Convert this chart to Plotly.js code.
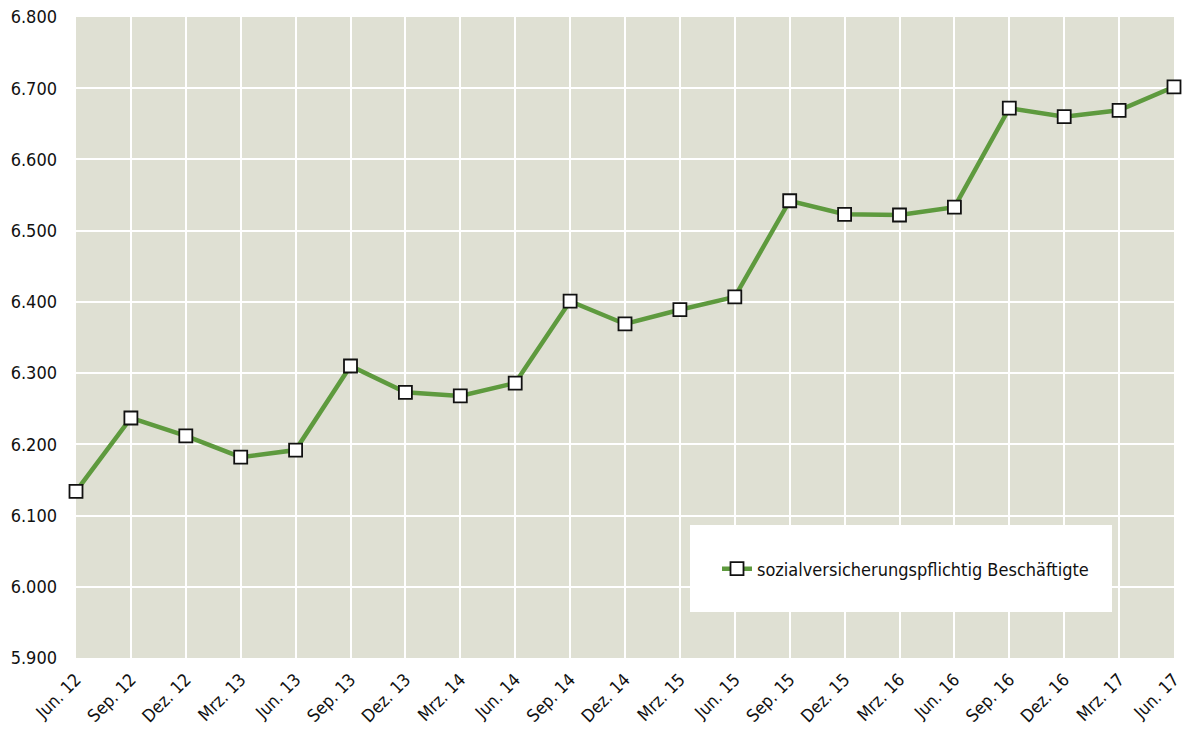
<!DOCTYPE html>
<html>
<head>
<meta charset="utf-8">
<script src="https://cdn.plot.ly/plotly-3.0.1.min.js"></script>
<style>html,body{margin:0;padding:0;background:#fff;}#chart{width:1184px;height:729px;}</style>
</head>
<body>
<div id="chart"></div>
<script>
const categories = ["Jun. 12","Sep. 12","Dez. 12","Mrz. 13","Jun. 13","Sep. 13","Dez. 13","Mrz. 14","Jun. 14","Sep. 14","Dez. 14","Mrz. 15","Jun. 15","Sep. 15","Dez. 15","Mrz. 16","Jun. 16","Sep. 16","Dez. 16","Mrz. 17","Jun. 17"];
const beschaeftigte = [6134,6237,6212,6182,6192,6310,6273,6268,6286,6401,6369,6389,6407,6542,6523,6522,6533,6672,6660,6669,6702];
const seriesName = "sozialversicherungspflichtig Beschäftigte";
const yTicks = [5900,6000,6100,6200,6300,6400,6500,6600,6700,6800];
const yTickLabels = ["5.900","6.000","6.100","6.200","6.300","6.400","6.500","6.600","6.700","6.800"];

const font = "DejaVu Sans Condensed, DejaVu Sans, Verdana, sans-serif";
const trace = {
  x: categories,
  y: beschaeftigte,
  name: seriesName,
  type: "scatter",
  mode: "lines+markers",
  cliponaxis: false,
  line: {color: "#5e9a3e", width: 4.5},
  marker: {symbol: "square", size: 13, color: "#ffffff", line: {color: "#111111", width: 1.8}},
  showlegend: true
};
const layout = {
  width: 1184, height: 729,
  margin: {l: 76, r: 10, t: 17, b: 71},
  paper_bgcolor: "#ffffff",
  plot_bgcolor: "#dfe0d3",
  font: {family: font, size: 18, color: "#111111"},
  xaxis: {
    type: "category",
    range: [0, categories.length - 1],
    showgrid: true, gridcolor: "#ffffff", gridwidth: 2,
    zeroline: false, showline: false, ticks: "",
    tickangle: -45,
    ticklabelstandoff: 7,
    tickfont: {family: font, size: 17.5, color: "#111111"},
    fixedrange: true
  },
  yaxis: {
    range: [5900, 6800],
    tickvals: yTicks, ticktext: yTickLabels,
    showgrid: true, gridcolor: "#ffffff", gridwidth: 2,
    zeroline: false, showline: false, ticks: "",
    ticklabelstandoff: 18,
    tickfont: {family: font, size: 18, color: "#111111"},
    fixedrange: true
  },
  shapes: [{
    type: "rect", xref: "paper", yref: "paper",
    x0: (690 - 76) / 1098, x1: (1112 - 76) / 1098,
    y0: (658 - 612) / 641, y1: (658 - 525) / 641,
    fillcolor: "#ffffff", line: {width: 0}, layer: "above"
  }],
  legend: {
    x: (717 - 76) / 1098, xanchor: "left",
    y: (658 - 569) / 641, yanchor: "middle",
    bgcolor: "rgba(0,0,0,0)",
    font: {family: font, size: 18, color: "#111111"}
  },
  showlegend: true
};
Plotly.newPlot("chart", [trace], layout, {displayModeBar: false, staticPlot: true});
</script>
</body>
</html>
